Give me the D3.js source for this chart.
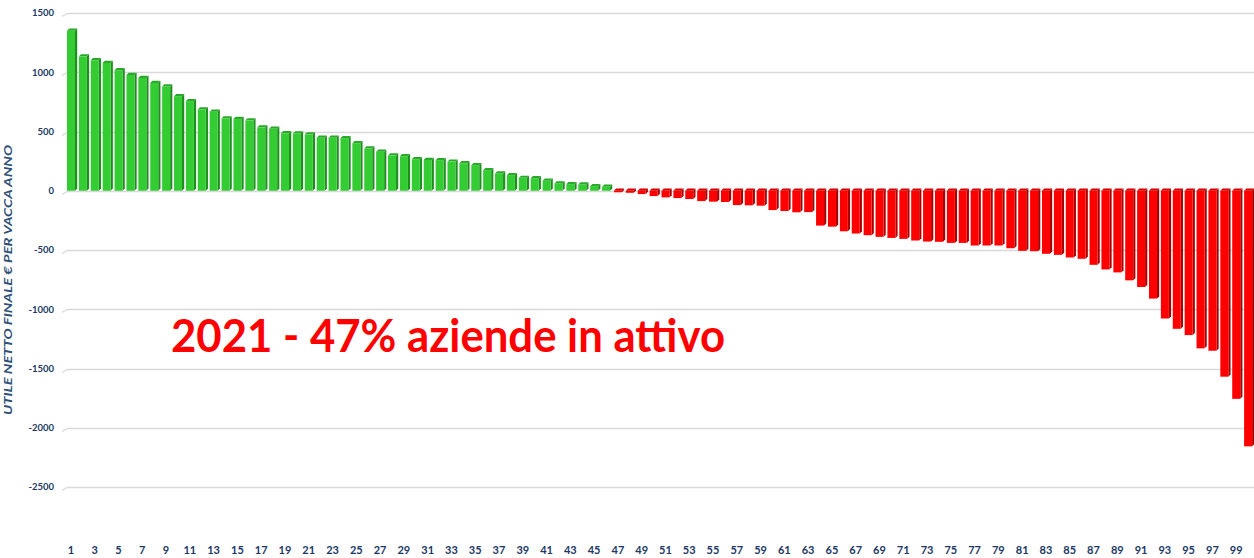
<!DOCTYPE html>
<html lang="it">
<head>
    <meta charset="UTF-8">
    <title>Utile netto finale per vacca anno 2021</title>
    <script src="https://d3js.org/d3.v7.min.js"></script>
    <style>
        body {
            margin: 0;
            padding: 0;
            background: #fff;
            overflow: hidden;
        }
        .grid line {
            stroke: #d9d9d9;
            stroke-width: 1.3px;
        }
        .ytick, .xtick {
            font-family: 'Lato', sans-serif;
            font-weight: bold;
            fill: #203864;
        }
    </style>
</head>
<body>
<div id="chart"></div>

<script>
// aziende in attivo (euro per vacca anno), ordinate
const profitValues = [
    1350, 1134, 1101, 1078, 1017, 977, 952, 910, 880, 798,
    756, 686, 667, 611, 605, 594, 535, 524, 485, 483,
    476, 448, 447, 444, 401, 356, 330, 297, 291, 266,
    260, 258, 246, 232, 216, 174, 146, 132, 109, 106,
    84, 62, 56, 53, 39, 34
];
// aziende in perdita
const lossValues = [
    -10, -17, -28, -45, -56, -62, -70, -87, -92, -95,
    -121, -123, -126, -163, -171, -182, -180, -294, -303, -342,
    -361, -375, -389, -398, -406, -420, -429, -431, -440, -440,
    -462, -462, -462, -485, -507, -510, -532, -541, -563, -574,
    -625, -664, -689, -756, -812, -910, -1078, -1165, -1218, -1330,
    -1350, -1569, -1756, -2157
];
const yTicks = [1500, 1000, 500, 0, -500, -1000, -1500, -2000, -2500];
const yTitle = "UTILE NETTO FINALE  \u20AC PER  VACCA ANNO";
const noteText = "2021 - 47% aziende in attivo";

const values = profitValues.concat(lossValues);
const categories = values.map((d, i) => i + 1);
const xTickLabels = categories.filter(d => d % 2 === 1);

const width = 1254, height = 558;
const svg = d3.select("#chart").append("svg")
    .attr("width", width)
    .attr("height", height);

const x = d3.scaleBand()
    .domain(categories)
    .range([66, 66 + 100 * 11.89])
    .padding(0);

const y = d3.scaleLinear()
    .domain([-2500, 1500])
    .range([487, 13]);

// gridlines (with small 3D floor corner on the left)
const grid = svg.append("g").attr("class", "grid");
yTicks.forEach(t => {
    const gy = Math.round(y(t)) + 0.5;
    grid.append("line")
        .attr("x1", 62).attr("y1", gy + 3)
        .attr("x2", 67).attr("y2", gy);
    grid.append("line")
        .attr("x1", 67).attr("y1", gy)
        .attr("x2", width).attr("y2", gy);
});

// y tick labels
svg.append("g").selectAll("text")
    .data(yTicks)
    .enter().append("text")
    .attr("class", "ytick")
    .attr("x", 54)
    .attr("y", d => y(d))
    .attr("dy", "0.35em")
    .attr("text-anchor", "end")
    .style("font-size", "9.5px")
    .text(d => d);

// x tick labels (odd only)
svg.append("g").selectAll("text")
    .data(xTickLabels)
    .enter().append("text")
    .attr("class", "xtick")
    .attr("x", d => x(d) + x.bandwidth() / 2 - 1)
    .attr("y", 554)
    .attr("text-anchor", "middle")
    .style("font-size", "11px")
    .text(d => d);

// 3D-ish bars
const frontW = 8, depth = 2.2;
const bars = svg.append("g").selectAll("g")
    .data(values)
    .enter().append("g");

function colors(v) {
    return v >= 0
        ? {front: "#33cc33", side: "#1e8f1e", top: "#2aa82a"}
        : {front: "#ff0000", side: "#a80000", top: "#d40000"};
}

bars.each(function(v, i) {
    const g = d3.select(this);
    const c = colors(v);
    const x0 = x(categories[i]) + 1;
    const yTop = Math.min(y(v), y(0));
    const yBot = Math.max(y(v), y(0));
    const h = Math.max(yBot - yTop, 1.5);
    // side face
    g.append("path")
        .attr("d", `M${x0 + frontW},${yTop} L${x0 + frontW + depth},${yTop - depth} L${x0 + frontW + depth},${yTop + h - depth} L${x0 + frontW},${yTop + h} Z`)
        .attr("fill", c.side);
    // top face
    g.append("path")
        .attr("d", `M${x0},${yTop} L${x0 + depth},${yTop - depth} L${x0 + frontW + depth},${yTop - depth} L${x0 + frontW},${yTop} Z`)
        .attr("fill", c.top);
    // front face
    g.append("rect")
        .attr("x", x0)
        .attr("y", yTop)
        .attr("width", frontW)
        .attr("height", h)
        .attr("fill", c.front);
});

// y axis title
svg.append("text")
    .attr("transform", "translate(12," + 280 + ") rotate(-90)")
    .attr("text-anchor", "middle")
    .attr("textLength", 270)
    .attr("lengthAdjust", "spacingAndGlyphs")
    .style("font-family", "'Lato', sans-serif")
    .style("font-weight", "bold")
    .style("font-style", "italic")
    .style("font-size", "11px")
    .style("fill", "#2f5078")
    .text(yTitle);

// annotation
svg.append("text")
    .attr("x", 171)
    .attr("y", 352)
    .attr("textLength", 554)
    .attr("lengthAdjust", "spacingAndGlyphs")
    .style("font-family", "'Lato', sans-serif")
    .style("font-weight", "bold")
    .style("font-size", "46px")
    .style("fill", "#ff0000")
    .text(noteText);
</script>
</body>
</html>
